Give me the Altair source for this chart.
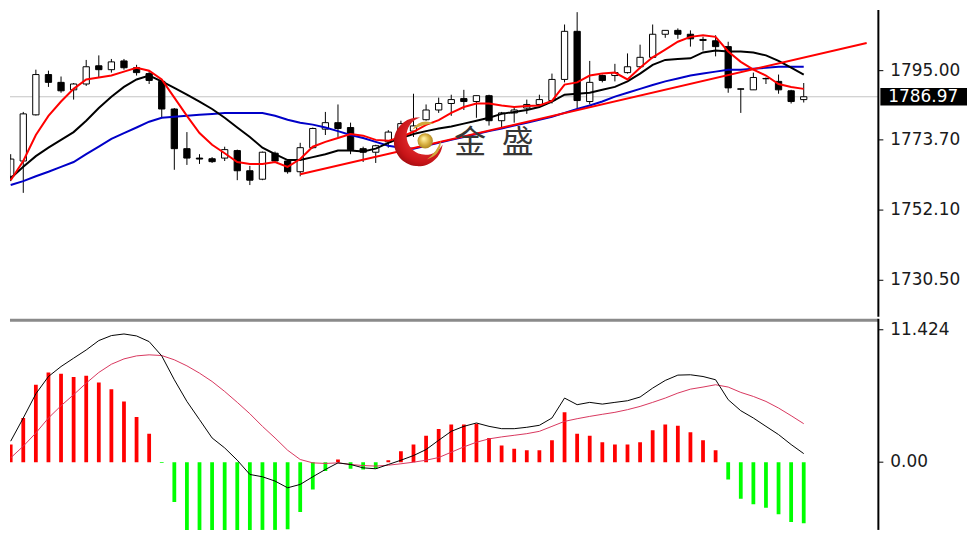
import altair as alt
import pandas as pd

# ---------------- price panel data ----------------
opens = [1762.5, 1767.2, 1781.4, 1793.8, 1791.4, 1789.1, 1790.9, 1796.5, 1795.3, 1798.0,
         1795.9, 1794.1, 1791.7, 1783.2, 1771.0, 1768.1, 1767.9, 1768.1, 1770.4, 1764.2,
         1761.6, 1769.6, 1767.2, 1763.9, 1771.3, 1777.0, 1779.0, 1777.5, 1771.0, 1769.9,
         1773.1, 1775.2, 1776.4, 1779.9, 1782.9, 1784.9, 1786.4, 1785.5, 1787.3, 1779.6,
         1782.0, 1783.5, 1784.6, 1785.8, 1792.3, 1807.1, 1785.5, 1793.5, 1793.5, 1794.4,
         1796.2, 1799.1, 1806.2, 1807.4, 1806.2, 1804.6, 1804.2, 1802.4, 1789.4, 1789.1,
         1792.6, 1791.7, 1788.8, 1786.1]
highs = [1769.3, 1782.3, 1795.3, 1795.0, 1793.2, 1791.2, 1798.3, 1799.7, 1798.6, 1798.6,
         1796.8, 1795.0, 1792.3, 1783.5, 1776.1, 1769.3, 1768.4, 1771.6, 1770.7, 1765.7,
         1770.1, 1770.1, 1767.8, 1772.8, 1777.5, 1782.3, 1784.6, 1779.0, 1771.6, 1772.2,
         1776.7, 1779.6, 1787.9, 1784.6, 1786.7, 1787.6, 1789.1, 1787.3, 1787.6, 1782.3,
         1784.1, 1786.1, 1787.6, 1794.1, 1809.2, 1813.0, 1798.0, 1793.8, 1797.1, 1800.3,
         1803.0, 1809.2, 1807.4, 1808.0, 1807.4, 1805.4, 1805.9, 1803.9, 1789.5, 1794.4,
         1792.9, 1793.8, 1789.1, 1791.2]
lows = [1761.0, 1757.4, 1781.2, 1790.0, 1788.2, 1786.1, 1790.3, 1792.9, 1794.4, 1795.3,
        1793.5, 1790.9, 1780.5, 1764.5, 1766.0, 1766.3, 1766.6, 1767.2, 1761.3, 1759.8,
        1761.3, 1766.9, 1763.3, 1762.5, 1771.0, 1775.2, 1774.6, 1769.3, 1766.9, 1766.6,
        1771.3, 1773.7, 1774.6, 1779.6, 1782.0, 1781.1, 1782.9, 1780.5, 1778.1, 1777.5,
        1779.0, 1781.7, 1784.1, 1784.9, 1791.4, 1783.5, 1784.6, 1791.4, 1791.7, 1794.1,
        1795.6, 1798.8, 1805.1, 1804.8, 1802.4, 1801.2, 1799.4, 1788.2, 1782.0, 1789.1,
        1790.9, 1787.9, 1784.9, 1785.2]
closes = [1767.8, 1781.7, 1793.8, 1791.4, 1788.8, 1790.9, 1796.2, 1795.3, 1797.7, 1795.9,
          1794.4, 1792.0, 1783.2, 1771.0, 1768.1, 1767.8, 1767.0, 1770.7, 1764.2, 1761.3,
          1769.9, 1767.2, 1763.9, 1771.3, 1777.2, 1779.0, 1777.2, 1770.7, 1769.9, 1771.9,
          1776.1, 1778.7, 1778.0, 1782.9, 1784.9, 1786.1, 1785.5, 1787.3, 1779.6, 1782.0,
          1782.9, 1784.6, 1786.1, 1792.3, 1807.1, 1785.8, 1791.4, 1792.0, 1794.4, 1796.2,
          1799.1, 1806.2, 1807.4, 1806.2, 1804.8, 1804.3, 1802.4, 1789.7, 1789.3, 1792.9,
          1792.5, 1789.1, 1785.5, 1786.97]
ma_red = [1761.3, 1767.2, 1775.2, 1781.1, 1785.5, 1789.4, 1792.3, 1792.9, 1793.5, 1794.7,
          1795.9, 1795.0, 1792.3, 1786.7, 1781.1, 1775.8, 1772.2, 1769.6, 1766.9, 1766.3,
          1766.3, 1766.9, 1765.4, 1767.8, 1771.6, 1773.1, 1774.3, 1775.5, 1775.0, 1773.7,
          1773.4, 1774.6, 1776.2, 1778.3, 1779.8, 1782.0, 1783.8, 1784.9, 1784.9, 1784.3,
          1783.8, 1784.1, 1784.3, 1785.7, 1790.7, 1791.4, 1793.5, 1794.1, 1794.4, 1792.3,
          1795.9, 1799.1, 1801.5, 1803.9, 1805.4, 1805.9, 1805.4, 1800.9, 1797.7, 1795.3,
          1793.5, 1790.9, 1790.0, 1789.4]
ma_black = [1761.9, 1765.4, 1768.7, 1771.3, 1773.7, 1776.1, 1779.6, 1783.5, 1787.0, 1790.0,
            1792.3, 1793.5, 1791.7, 1789.7, 1787.6, 1785.5, 1783.2, 1780.5, 1777.5, 1774.6,
            1771.3, 1769.3, 1767.5, 1767.5, 1768.4, 1769.3, 1770.4, 1770.4, 1770.1, 1771.0,
            1772.8, 1774.3, 1775.5, 1776.4, 1777.2, 1777.8, 1778.7, 1779.6, 1780.5, 1781.7,
            1782.3, 1782.9, 1783.8, 1785.5, 1787.6, 1787.9, 1788.2, 1789.1, 1790.0, 1791.7,
            1794.1, 1796.8, 1798.3, 1798.6, 1798.8, 1800.6, 1801.2, 1800.9, 1800.9, 1800.6,
            1799.7, 1798.0, 1795.9, 1793.8]
ma_blue = [1759.8, 1761.0, 1762.5, 1763.9, 1765.4, 1766.9, 1769.3, 1771.6, 1774.0, 1775.8,
           1777.5, 1779.3, 1780.5, 1780.8, 1781.1, 1781.4, 1781.7, 1782.0, 1782.0, 1782.0,
           1782.0, 1781.1, 1779.9, 1779.0, 1778.4, 1777.5, 1776.4, 1775.2, 1774.3, 1773.1,
           1771.9, 1771.3, 1771.0, 1771.9, 1772.8, 1773.7, 1774.6, 1775.5, 1776.4, 1777.2,
           1778.1, 1779.0, 1779.9, 1780.8, 1782.0, 1783.2, 1784.3, 1785.5, 1787.0, 1788.2,
           1789.4, 1790.6, 1791.7, 1792.6, 1793.5, 1794.1, 1794.7, 1795.3, 1795.3, 1795.6,
           1795.9, 1796.2, 1796.2, 1796.2]
trend_idx = [23, 68]
trend_price = [1763.1, 1803.5]
last_price = 1786.97
price_ticks = [1730.50, 1752.10, 1773.70, 1795.00]
price_tick_labels = ["1730.50", "1752.10", "1773.70", "1795.00"]

# ---------------- MACD panel data ----------------
hist = [1.52, 3.81, 6.68, 7.74, 7.62, 7.34, 7.45, 6.88, 6.30, 5.24,
        3.90, 2.46, -0.08, -3.44, -6.02, -8.0, -8.2, -7.8, -7.6, -7.5,
        -7.08, -6.22, -5.79, -4.30, -2.35, -0.77, 0.23, -0.57, -0.63, -0.57,
        0.17, 0.95, 1.52, 2.29, 2.87, 3.24, 3.24, 3.32, 2.09, 1.43,
        1.15, 1.03, 1.03, 1.89, 4.30, 2.46, 2.29, 1.72, 1.52, 1.52,
        1.72, 2.75, 3.24, 3.15, 2.58, 1.89, 1.03, -1.49, -3.15, -3.64,
        -3.93, -4.50, -5.16, -5.27]
macd_line = [1.81, 3.81, 5.90, 7.39, 8.25, 8.97, 9.68, 10.49, 10.92, 11.06,
             10.89, 10.40, 9.17, 7.11, 5.24, 3.67, 2.09, 1.23, 0.17, -1.06,
             -1.26, -1.63, -2.21, -1.92, -1.26, -0.63, -0.06, -0.20, -0.49, -0.57,
             -0.20, 0.17, 0.57, 1.09, 1.89, 2.66, 3.09, 3.38, 3.09, 2.89,
             2.89, 3.01, 3.18, 3.81, 5.53, 4.96, 5.16, 5.01, 5.16, 5.30,
             5.62, 6.39, 7.05, 7.51, 7.54, 7.39, 7.11, 5.39, 4.44, 3.81,
             3.09, 2.38, 1.52, 0.74]
signal_line = [0.37, 1.38, 2.52, 3.81, 4.87, 5.82, 6.82, 7.74, 8.45, 8.91,
               9.17, 9.26, 9.20, 8.83, 8.31, 7.68, 6.96, 6.10, 5.16, 4.18,
               3.09, 2.09, 1.03, 0.23, -0.06, -0.11, -0.06, -0.20, -0.29, -0.34,
               -0.26, -0.14, 0.0, 0.17, 0.40, 0.86, 1.32, 1.72, 2.01, 2.18,
               2.32, 2.46, 2.66, 3.09, 3.52, 3.75, 3.95, 4.13, 4.30, 4.53,
               4.81, 5.16, 5.53, 5.96, 6.30, 6.48, 6.68, 6.48, 6.02, 5.67,
               5.24, 4.67, 4.01, 3.32]
macd_ticks = [0.0, 11.424]
macd_tick_labels = ["0.00", "11.424"]

# watermark
brand_chars = ["金", "盛"]

# ---------------- layout ----------------
W, H1, H2 = 872, 308, 212
X_DOMAIN = [-0.055, 68.93]
PRICE_DOMAIN = [1719.26, 1813.64]
MACD_DOMAIN = [-5.844, 12.369]
BODY_HALF = 0.25   # candle body half width, in bar units
HIST_HALF = 0.15   # histogram half width, in bar units
AXIS_FONT = "DejaVu Sans"
AXIS_SIZE = 17
AXIS_COLOR = "#1a1a1a"

n = len(closes)
idx = list(range(n))
candles = pd.DataFrame({"idx": idx, "open": opens, "high": highs, "low": lows, "close": closes,
                        "ma_red": ma_red, "ma_black": ma_black, "ma_blue": ma_blue})
trend = pd.DataFrame({"idx": trend_idx, "price": trend_price})
macd = pd.DataFrame({"idx": idx, "hist": hist, "macd": macd_line, "signal": signal_line})
pticks = pd.DataFrame({"v": price_ticks, "lab": price_tick_labels})
mticks = pd.DataFrame({"v": macd_ticks, "lab": macd_tick_labels})
one = pd.DataFrame({"a": [0]})

xs = alt.Scale(domain=X_DOMAIN, nice=False, zero=False, clamp=True)
ps = alt.Scale(domain=PRICE_DOMAIN, nice=False, zero=False, clamp=True)
ms = alt.Scale(domain=MACD_DOMAIN, nice=False, zero=False, clamp=True)
xenc = alt.X("idx:Q", scale=xs, axis=None)


def py(field):
    return alt.Y(f"{field}:Q", scale=ps, axis=None)


def my(field):
    return alt.Y(f"{field}:Q", scale=ms, axis=None)


base = alt.Chart(candles)
lab = pd.DataFrame({"p": [last_price]})

price_line = alt.Chart(lab).mark_rule(color="#c4c4c4", strokeWidth=1).encode(y=py("p"))
wicks = base.mark_rule(color="#000000", strokeWidth=1, clip=True).encode(
    x=xenc, y=py("low"), y2="high:Q")
bodies = base.transform_calculate(
    x0=f"datum.idx - {BODY_HALF}", x1=f"datum.idx + {BODY_HALF}").mark_rect(
    stroke="#000000", strokeWidth=1, clip=True).encode(
    x=alt.X("x0:Q", scale=xs, axis=None), x2="x1:Q", y=py("open"), y2="close:Q",
    fill=alt.condition("datum.close >= datum.open", alt.value("#ffffff"), alt.value("#000000")))


def ma(field, color):
    return base.mark_line(color=color, strokeWidth=2, clip=True).encode(x=xenc, y=py(field))


blue_l = ma("ma_blue", "#0000c8")
black_l = ma("ma_black", "#000000")
red_l = ma("ma_red", "#ff0000")
trend_l = alt.Chart(trend).mark_line(color="#ff0000", strokeWidth=2, clip=True).encode(
    x=xenc, y=py("price"))

# logo (crescent + gold ball + swooshes) and brand text
logo_pos = pd.DataFrame({"idx": [32.38], "price": [1773.1]})
ball_pos = pd.DataFrame({"idx": [32.93], "price": [1773.4]})
text_pos = pd.DataFrame({"idx": [36.5, 40.27], "price": [1772.8, 1772.8], "t": brand_chars})

CRESCENT = "M 0.076 -0.997 A 1 1 0 1 0 0.995 0.105 A 0.78 0.78 0 1 1 0.076 -0.997 Z"
SWOOSH = ("M -0.25 -0.5 Q 0.1 -1.0 0.65 -0.75 Q 0.15 -0.72 -0.25 -0.5 Z "
          "M 0.35 0.72 Q 0.95 0.55 0.92 -0.05 Q 0.76 0.45 0.35 0.72 Z")

red_grad = {"gradient": "radial", "x1": 0.6, "y1": 0.4, "r1": 0.1, "x2": 0.6, "y2": 0.4, "r2": 0.8,
            "stops": [{"offset": 0, "color": "#f03a3a"}, {"offset": 0.6, "color": "#c81418"},
                      {"offset": 1, "color": "#7a0608"}]}
gold_grad = {"gradient": "radial", "x1": 0.4, "y1": 0.35, "r1": 0.05, "x2": 0.5, "y2": 0.5, "r2": 0.6,
             "stops": [{"offset": 0, "color": "#fff0a0"}, {"offset": 0.5, "color": "#d8b040"},
                       {"offset": 1, "color": "#9c7412"}]}

crescent = alt.Chart(logo_pos).mark_point(shape=CRESCENT, size=2400, filled=True, opacity=1,
                                          strokeWidth=0, fill=red_grad).encode(x=xenc, y=py("price"))
swoosh = alt.Chart(logo_pos).mark_point(shape=SWOOSH, size=2400, filled=True, opacity=1,
                                        strokeWidth=0, fill="#cfa83a").encode(x=xenc, y=py("price"))
ball = alt.Chart(ball_pos).mark_point(shape="circle", size=240, filled=True, opacity=1,
                                      strokeWidth=0, fill=gold_grad).encode(x=xenc, y=py("price"))
brand = alt.Chart(text_pos).mark_text(font="Noto Sans CJK SC", fontSize=32, color="#363636",
                                      align="center", baseline="middle").encode(
    x=xenc, y=py("price"), text="t:N")

# right-hand price axis drawn as marks
p_domain = alt.Chart(one).mark_rule(color="#000000", strokeWidth=2).encode(
    x=alt.value(W), y=alt.value(0), y2=alt.value(H1))
p_ticks = alt.Chart(pticks).mark_rule(color="#000000", strokeWidth=1).encode(
    x=alt.value(W), x2=alt.value(W + 5), y=py("v"))
p_labels = alt.Chart(pticks).mark_text(align="left", baseline="middle", font=AXIS_FONT,
                                       fontSize=AXIS_SIZE, color=AXIS_COLOR).encode(
    x=alt.value(W + 12), y=py("v"), text="lab:N")

box = alt.Chart(lab).transform_calculate(top="datum.p + 2.7", bot="datum.p - 2.7").mark_rect(
    color="#000000").encode(x=alt.value(W + 2), x2=alt.value(W + 89), y=py("top"), y2="bot:Q")
box_txt = alt.Chart(lab).mark_text(align="left", baseline="middle", font=AXIS_FONT,
                                   fontSize=AXIS_SIZE, color="#ffffff").encode(
    x=alt.value(W + 10), y=py("p"), text=alt.Text("p:Q", format=".2f"))

top = alt.layer(price_line, wicks, bodies, blue_l, black_l, red_l, trend_l,
                crescent, swoosh, ball, brand, p_domain, p_ticks, p_labels,
                box, box_txt).properties(width=W, height=H1)

# ---------------- MACD panel ----------------
mbase = alt.Chart(macd)
bars = mbase.transform_calculate(
    x0=f"datum.idx - {HIST_HALF}", x1=f"datum.idx + {HIST_HALF}").mark_rect(clip=True).encode(
    x=alt.X("x0:Q", scale=xs, axis=None), x2="x1:Q", y=my("hist"), y2=alt.datum(0),
    color=alt.condition("datum.hist >= 0", alt.value("#ff0000"), alt.value("#00ff00")))
sig = mbase.mark_line(color="#d8365e", strokeWidth=1, clip=True).encode(x=xenc, y=my("signal"))
mline = mbase.mark_line(color="#000000", strokeWidth=1, clip=True).encode(x=xenc, y=my("macd"))
sep = alt.Chart(one).mark_rule(color="#8a8a8a", strokeWidth=3).encode(
    x=alt.value(0), x2=alt.value(W), y=alt.value(1.5))
m_domain = alt.Chart(one).mark_rule(color="#000000", strokeWidth=2).encode(
    x=alt.value(W), y=alt.value(0), y2=alt.value(H2))
m_ticks = alt.Chart(mticks).mark_rule(color="#000000", strokeWidth=1).encode(
    x=alt.value(W), x2=alt.value(W + 5), y=my("v"))
m_labels = alt.Chart(mticks).mark_text(align="left", baseline="middle", font=AXIS_FONT,
                                       fontSize=AXIS_SIZE, color=AXIS_COLOR).encode(
    x=alt.value(W + 12), y=my("v"), text="lab:N")

bottom = alt.layer(bars, sig, mline, sep, m_domain, m_ticks, m_labels).properties(width=W, height=H2)

chart = alt.vconcat(top, bottom, spacing=0).resolve_scale(
    x="independent", y="independent").properties(
    padding=0, background="#ffffff").configure_view(strokeWidth=0)

chart.save("out.html", embed_options={"renderer": "svg", "actions": False})
